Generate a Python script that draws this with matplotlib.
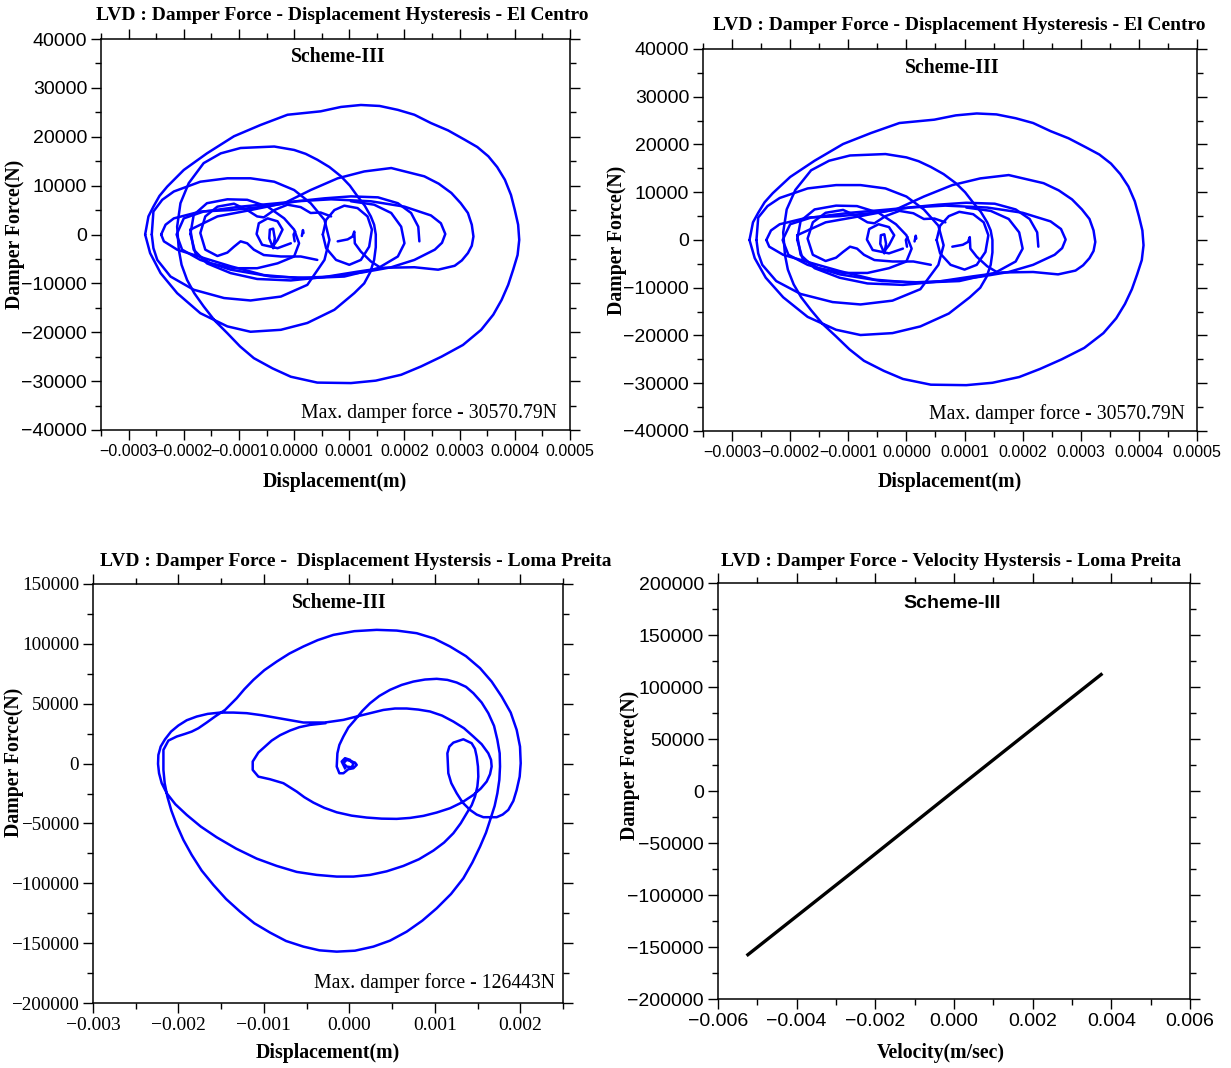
import numpy as np
import matplotlib
matplotlib.use("Agg")
import matplotlib.pyplot as plt
from matplotlib.ticker import MultipleLocator, FuncFormatter

SERIF = "Liberation Serif"
SANS = "Liberation Sans"
BLUE = "#0000ff"

# ---------------------------------------------------------------
# El Centro trace, split into its loops
# displacement in 1e-5 m, damper force in kN
# ---------------------------------------------------------------
elc_a_x = [-27.0, -26.4, -25.5, -24.4, -23.0, -20.0, -15.8, -10.9, -6.1, -1.2, 4.8, 8.5, 12.1, 15.5, 18.8,
           21.8, 24.8, 27.9, 30.9, 33.2, 35.2, 36.8, 38.2, 39.3, 40.0, 40.6, 40.8, 40.5, 39.7, 38.8,
           37.6, 36.1, 33.9, 30.6, 26.7, 23.0, 19.4, 14.8, 10.3, 4.2, -0.6, -3.9, -7.3, -9.8, -12.1,
           -14.4, -16.4, -18.1, -19.4, -20.4, -20.9, -21.2, -20.6, -19.1, -16.4, -13.3, -9.7, -3.6, 0.0,
           2.1, 4.2, 6.4, 8.5, 10.1, 11.5, 12.8, 13.9, 14.5, 14.8, 14.8, 14.5, 13.8, 12.7, 10.9, 7.3,
           2.4, -2.4, -7.9, -12.1, -17.0, -21.2, -24.2, -26.1, -27.0]
elc_a_f = [0.0, 3.7, 5.7, 7.9, 9.8, 13.2, 16.6, 20.1, 22.4, 24.5, 25.2, 26.1, 26.5, 26.3, 25.5,
           24.5, 22.8, 21.3, 19.4, 17.9, 16.0, 13.8, 11.2, 8.1, 5.0, 2.0, -1.1, -4.2, -7.2, -10.3,
           -13.4, -16.4, -19.5, -22.6, -25.0, -27.0, -28.7, -29.9, -30.4, -30.3, -29.1, -27.4, -25.3, -22.9, -20.2,
           -17.6, -14.7, -12.0, -9.3, -6.2, -3.1, 1.6, 6.4, 10.5, 14.6, 16.6, 17.7, 18.0, 17.3,
           16.5, 15.3, 13.8, 11.9, 10.0, 7.8, 5.9, 3.7, 2.0, 0.0, -2.6, -5.2, -7.7, -10.0, -12.0, -15.4,
           -18.1, -19.5, -19.9, -18.8, -16.1, -12.0, -7.9, -3.8, 0.0]

elc_b_x = [-18.8, -13.9, -7.9, -1.8, 3.0, 7.9, 12.7, 17.6, 23.6, 26.2, 28.5, 30.2, 31.5, 32.2, 32.5,
           32.2, 31.5, 30.4, 29.1, 26.1, 21.8, 16.4, 11.5, 5.5, -0.6, -6.7, -11.5, -15.8, -18.2, -18.8]
elc_b_f = [1.0, 3.7, 5.0, 6.4, 9.1, 11.5, 12.9, 13.6, 11.9, 10.4, 8.5, 6.4, 4.4, 2.0, -0.4,
           -2.3, -3.8, -5.3, -6.4, -7.2, -6.7, -6.8, -7.6, -8.7, -9.4, -9.1, -7.9, -5.9, -3.1, 1.0]

elc_c_x = [-25.8, -25.5, -23.9, -21.8, -17.0, -12.1, -7.9, -3.6, 0.0, 3.0, 5.5, 6.4, 5.5, 2.4, -2.4,
           -7.9, -12.7, -18.2, -22.4, -24.8, -25.5, -25.8]
elc_c_f = [0.0, 4.7, 7.1, 8.8, 10.8, 11.5, 11.5, 10.8, 9.1, 6.4, 3.0, -1.1, -5.2, -10.3, -12.7,
           -13.5, -13.0, -11.3, -8.6, -5.2, -2.8, 0.0]

elc_d_x = [-24.1, -23.3, -21.8, -17.0, -11.5, -5.5, 0.6, 6.7, 13.9, 20.0, 24.8, 26.6, 27.4, 26.8, 25.5,
           21.8, 17.6, 12.7, 6.7, 0.6, -5.5, -11.5, -16.4, -21.2, -23.6, -24.1]
elc_d_f = [0.0, 2.0, 3.3, 4.7, 5.0, 5.7, 6.8, 7.2, 6.8, 5.7, 3.9, 2.3, 0.1, -1.7, -3.1,
           -5.2, -6.7, -7.7, -8.6, -8.9, -8.3, -6.5, -4.8, -3.1, -1.4, 0.0]

elc_e_x = [22.7, 22.5, 21.2, 18.8, 15.2, 10.3, 5.5, -3.0, -9.7, -16.4, -20.0, -21.3, -20.3, -17.0, -11.5,
           -4.2, 3.0, 9.1, 15.2, 18.8, 20.0, 19.4, 17.6, 14.5, 10.3]
elc_e_f = [-1.4, 1.6, 4.4, 6.4, 7.6, 7.8, 7.4, 6.4, 5.7, 4.7, 3.3, 0.0, -3.1, -5.2, -7.2,
           -8.6, -8.9, -8.6, -6.9, -4.5, -1.8, 1.6, 4.4, 6.1, 6.8]

elc_f_x = [-18.8, -18.2, -15.8, -12.1, -8.5, -4.8, -1.8, 0.0, 0.9, 0.0, -3.0, -6.7, -10.9, -15.2, -17.9, -18.8]
elc_f_f = [0.1, 4.0, 6.4, 7.2, 7.1, 5.7, 3.3, 1.0, -1.8, -4.5, -5.9, -6.9, -6.9, -5.9, -3.8, 0.1]

elc_g_x = [6.7, 4.8, 3.0, 1.2, -1.2, -3.6, -5.5, -6.7, -8.5, -10.9, -13.9, -16.1, -17.0, -16.1, -13.9,
           -12.1, -10.9, -9.7, -8.5, -7.3, -5.5, -2.4, 1.2, 4.2]
elc_g_f = [3.7, 4.5, 4.4, 5.6, 6.1, 5.0, 3.5, 3.7, 5.0, 6.3, 5.7, 3.7, 0.3, -3.1, -4.4,
           -3.7, -2.5, -1.4, -1.8, -3.1, -4.2, -4.5, -4.5, -5.2]

elc_h_x = [-0.6, -3.0, -5.8, -6.8, -6.4, -4.8, -3.0, -2.1, -3.0, -3.9, -4.5, -4.4, -3.8, -3.5, -3.8]
elc_h_f = [-1.8, -2.8, -2.1, 0.1, 2.3, 3.3, 2.7, 1.0, -1.1, -2.5, -0.8, 1.0, 1.2, -0.8, -2.8]

elc_i_x = [0.1, -0.1, 0.2]
elc_i_f = [-1.4, 0.0, 0.6]
elc_j_x = [1.4, 1.6, 1.7]
elc_j_f = [-0.3, 0.9, 0.3]

elc_k_x = [5.2, 5.8, 7.3, 9.1, 11.5, 13.3, 14.1, 13.6, 12.1, 10.0, 7.6, 5.8, 5.2]
elc_k_f = [0.0, 3.0, 5.0, 5.9, 5.4, 3.7, 1.0, -2.5, -5.2, -6.2, -5.2, -2.8, 0.0]

elc_l_x = [7.9, 8.8, 9.7, 10.6, 10.9, 11.0, 12.1, 13.9, 15.8]
elc_l_f = [-1.4, -1.2, -1.0, -0.4, 0.6, -1.8, -3.5, -5.5, -6.9]

elc_loops = [(elc_a_x, elc_a_f), (elc_b_x, elc_b_f), (elc_c_x, elc_c_f), (elc_d_x, elc_d_f),
             (elc_e_x, elc_e_f), (elc_f_x, elc_f_f), (elc_g_x, elc_g_f), (elc_h_x, elc_h_f),
             (elc_i_x, elc_i_f), (elc_j_x, elc_j_f), (elc_k_x, elc_k_f), (elc_l_x, elc_l_f)]

# ---------------------------------------------------------------
# Loma Prieta trace, (displacement mm, force kN), in time order
# ---------------------------------------------------------------
lp_curl = [(-0.051, -3.9), (-0.090, 1.7), (-0.051, 4.5), (0.008, 3.1), (0.047, -0.3), (0.027, -3.1),
           (-0.031, -2.5), (-0.070, 0.3), (-0.031, 3.1), (0.066, 0.8), (0.086, -1.1), (0.047, -3.9),
           (-0.012, -4.7), (-0.070, -8.1), (-0.117, -8.1), (-0.148, -2.5)]

lp_first_cycles = [
    (-0.140, 8.6), (-0.117, 15.6), (-0.070, 22.6), (-0.012, 30.1), (0.066, 36.5), (0.152, 44.0),
    (0.242, 50.4), (0.351, 56.5), (0.476, 61.6), (0.612, 65.7), (0.749, 68.5), (0.885, 70.2),
    (1.022, 70.8), (1.147, 69.9), (1.256, 67.7), (1.365, 64.1), (1.451, 58.8), (1.548, 51.0),
    (1.626, 42.1), (1.693, 31.5), (1.732, 19.8), (1.759, 8.6), (1.763, -2.5), (1.755, -13.6),
    (1.732, -24.8), (1.700, -35.4), (1.654, -45.7), (1.599, -57.7), (1.529, -69.4), (1.439, -82.7),
    (1.334, -95.8), (1.190, -108.9), (1.022, -120.9), (0.854, -131.2), (0.671, -140.4),
    (0.476, -147.9), (0.281, -152.9), (0.066, -156.3), (-0.148, -157.1), (-0.351, -156.0),
    (-0.538, -152.9), (-0.741, -148.2), (-0.928, -141.2), (-1.112, -133.4), (-1.279, -123.7),
    (-1.443, -113.1), (-1.591, -101.4), (-1.728, -89.4), (-1.845, -76.3), (-1.942, -63.8),
    (-2.020, -51.3), (-2.083, -39.3), (-2.130, -27.6), (-2.161, -16.4), (-2.176, -5.3),
    (-2.176, 11.4), (-2.118, 19.2), (-2.020, 22.6), (-1.923, 24.8), (-1.845, 26.7), (-1.767, 29.5),
    (-1.669, 34.3), (-1.572, 39.3), (-1.455, 44.8), (-1.318, 54.6), (-1.229, 62.1), (-1.123, 69.9),
    (-0.995, 78.0), (-0.850, 85.2), (-0.702, 91.9), (-0.538, 97.8), (-0.371, 103.1), (-0.187, 107.5),
    (0.059, 110.6), (0.320, 111.7), (0.554, 111.1), (0.788, 108.9), (0.991, 104.5), (1.178, 97.8),
    (1.365, 89.7), (1.529, 79.7), (1.665, 68.5), (1.782, 56.0), (1.888, 42.6), (1.958, 28.1),
    (1.997, 14.2), (2.005, 0.3), (1.993, -10.9), (1.958, -22.0), (1.919, -31.2), (1.860, -38.7),
    (1.794, -42.6), (1.724, -44.8), (1.568, -44.8), (1.490, -42.6), (1.412, -38.7), (1.326, -32.6),
    (1.256, -24.8), (1.193, -16.4), (1.158, -8.1), (1.147, 8.6), (1.170, 14.2), (1.217, 17.5),
    (1.334, 20.3), (1.431, 17.0), (1.470, 12.3), (1.490, 5.8), (1.505, -2.5), (1.509, -10.9),
    (1.498, -19.2), (1.470, -27.6), (1.431, -34.8), (1.373, -41.5), (1.303, -49.9), (1.217, -58.2),
    (1.108, -66.0), (0.983, -72.7), (0.815, -79.9), (0.632, -85.5), (0.437, -90.0), (0.242, -93.0),
    (0.047, -94.4), (-0.148, -94.4), (-0.382, -93.0), (-0.616, -90.5), (-0.850, -85.5),
    (-1.084, -79.4), (-1.326, -71.0), (-1.552, -61.6), (-1.739, -52.6), (-1.903, -42.9),
    (-2.036, -34.0), (-2.137, -24.8), (-2.196, -16.4), (-2.227, -8.1), (-2.239, -0.3), (-2.235, 7.2),
    (-2.208, 14.2), (-2.157, 20.3), (-2.087, 26.7), (-2.001, 31.8), (-1.903, 36.2), (-1.786, 39.3),
    (-1.658, 41.5), (-1.513, 42.6), (-1.357, 42.6), (-1.201, 42.1), (-1.026, 40.4), (-0.850, 38.2),
    (-0.694, 36.2), (-0.538, 34.3), (-0.285, 34.3)]

lp_last_cycle = [
    (-0.070, 36.5), (0.164, 40.7), (0.398, 44.8), (0.534, 46.0), (0.671, 46.0),
    (0.807, 45.1), (0.944, 43.5), (1.084, 40.1), (1.217, 35.1), (1.342, 29.5), (1.451, 22.6),
    (1.548, 16.2), (1.626, 8.6), (1.658, 3.1), (1.665, -2.5), (1.646, -8.9), (1.607, -15.0),
    (1.537, -20.9), (1.451, -26.2), (1.322, -32.3), (1.178, -37.3), (1.022, -40.9), (0.866, -43.7),
    (0.710, -45.4), (0.554, -46.2), (0.378, -46.0), (0.203, -45.1), (0.027, -43.5), (-0.148, -40.7),
    (-0.293, -37.0), (-0.421, -32.6), (-0.527, -28.1), (-0.616, -23.4), (-0.772, -16.4),
    (-0.928, -13.1), (-1.065, -10.9), (-1.131, -5.3), (-1.131, 1.7), (-1.065, 9.2), (-0.909, 19.2),
    (-0.811, 23.7), (-0.694, 27.6), (-0.585, 30.4), (-0.460, 32.3), (-0.285, 33.7)]

# Loma Prieta force-velocity response (m/s, N)
lp_velocity = [-0.00524, -0.0026, 0.0, 0.0019, 0.00374]
lp_vel_force = [-157400, -78500, 0, 57000, 112000]

elc_max_label = "Max. damper force - 30570.79N"
lp_max_label = "Max. damper force - 126443N"

W, H = 1231, 1068
fig = plt.figure(figsize=(W / 100, H / 100), dpi=100)


def box(l, t, r, b):
    return [l / W, 1 - b / H, (r - l) / W, (b - t) / H]


def put(x, y, s, **kw):
    fig.text(x / W, 1 - y / H, s, **kw)


def fmt(decimals):
    def f(v, pos):
        if abs(v) < 1e-12:
            v = 0.0
        return f"{v:.{decimals}f}".replace("-", "\u2212")
    return FuncFormatter(f)


def style(ax, xlim, ylim, xstep, ystep, xdec, tick_family, xsize, ysize):
    ax.set_xlim(*xlim)
    ax.set_ylim(*ylim)
    ax.xaxis.set_major_locator(MultipleLocator(xstep))
    ax.xaxis.set_minor_locator(MultipleLocator(xstep / 2))
    ax.yaxis.set_major_locator(MultipleLocator(ystep))
    ax.yaxis.set_minor_locator(MultipleLocator(ystep / 2))
    ax.xaxis.set_major_formatter(fmt(xdec))
    ax.yaxis.set_major_formatter(fmt(0))
    ax.tick_params(which="both", direction="out", top=True, right=True, width=1.0, color="black")
    ax.tick_params(which="major", length=7)
    ax.tick_params(which="minor", length=4)
    ax.tick_params(axis="x", labelsize=xsize, labelfontfamily=tick_family, pad=3)
    ax.tick_params(axis="y", labelsize=ysize, labelfontfamily=tick_family, pad=3)
    for sp in ax.spines.values():
        sp.set_linewidth(1.1)


def hysteresis_elc(ax):
    for lx, lf in elc_loops:
        ax.plot(np.array(lx) * 1e-5, np.array(lf) * 1e3, color=BLUE, lw=1.8,
                solid_joinstyle="round", solid_capstyle="round")


def hysteresis_lp(ax):
    d, f = np.array(lp_curl + lp_first_cycles + lp_last_cycle).T
    ax.plot(d * 1e-3, f * 1e3, color=BLUE, lw=1.8, solid_joinstyle="round")


title_kw = dict(ha="center", va="center", fontfamily=SERIF, fontweight="bold", fontsize=14)
lab_kw = dict(ha="center", va="center", fontfamily=SERIF, fontweight="bold", fontsize=14.2)
max_kw = dict(ha="right", va="center", fontfamily=SERIF, fontsize=14.2)

# --- El Centro, force vs displacement (left) ---
ax1 = fig.add_axes(box(101, 39, 570, 430))
hysteresis_elc(ax1)
style(ax1, (-0.00035, 0.0005), (-40000, 40000), 0.0001, 10000, 4, SANS, 11.5, 14)
put(342, 15, "LVD : Damper Force - Displacement Hysteresis - El Centro", **title_kw)
put(338, 57, "Scheme-III", **lab_kw)
put(557, 413, elc_max_label, **max_kw)
put(335, 482, "Displacement(m)", **lab_kw)
put(15, 234, "Damper Force(N)", rotation=90, **lab_kw)

# --- El Centro, force vs displacement (right) ---
ax2 = fig.add_axes(box(703, 49, 1197, 431))
hysteresis_elc(ax2)
style(ax2, (-0.00035, 0.0005), (-40000, 40000), 0.0001, 10000, 4, SANS, 11.5, 14)
put(959, 25, "LVD : Damper Force - Displacement Hysteresis - El Centro", **title_kw)
put(952, 68, "Scheme-III", **lab_kw)
put(1185, 414, elc_max_label, **max_kw)
put(950, 482, "Displacement(m)", **lab_kw)
put(617, 240, "Damper Force(N)", rotation=90, **lab_kw)

# --- Loma Prieta, force vs displacement ---
ax3 = fig.add_axes(box(93, 584, 563, 1003))
hysteresis_lp(ax3)
style(ax3, (-0.003, 0.0025), (-200000, 150000), 0.001, 50000, 3, SERIF, 14, 13.8)
put(356, 562, "LVD : Damper Force -  Displacement Hystersis - Loma Preita", **title_kw)
put(339, 603, "Scheme-III", **lab_kw)
put(555, 983, lp_max_label, **max_kw)
put(328, 1053, "Displacement(m)", **lab_kw)
put(14, 762, "Damper Force(N)", rotation=90, **lab_kw)

# --- Loma Prieta, force vs velocity ---
ax4 = fig.add_axes(box(718, 583, 1190, 999))
ax4.plot(lp_velocity, lp_vel_force, color="black", lw=2.4)
style(ax4, (-0.006, 0.006), (-200000, 200000), 0.002, 50000, 3, SANS, 14, 14)
put(951, 561, "LVD : Damper Force - Velocity Hystersis - Loma Preita", **title_kw)
put(952, 604, "Scheme-III", ha="center", va="center", fontfamily=SANS, fontweight="bold", fontsize=14)
put(941, 1053, "Velocity(m/sec)", **lab_kw)
put(630, 765, "Damper Force(N)", rotation=90, **lab_kw)

fig.savefig("out.png", dpi=100)
